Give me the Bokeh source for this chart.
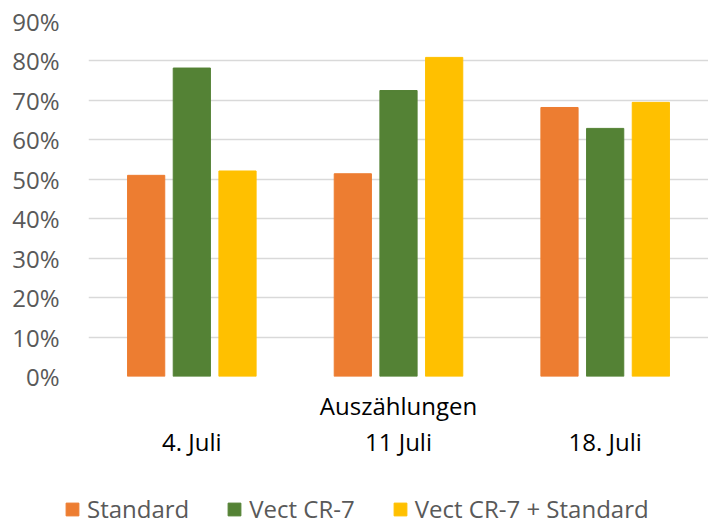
from bokeh.plotting import figure
from bokeh.layouts import column
from bokeh.models import (ColumnDataSource, FactorRange, Range1d, CategoricalAxis,
                          FixedTicker, NumeralTickFormatter, Legend, LegendItem)
from bokeh.transform import dodge
from bokeh.embed import file_html
from bokeh.resources import INLINE

dates = ["4. Juli", "11 Juli", "18. Juli"]
standard = [0.510, 0.514, 0.682]
vect = [0.782, 0.725, 0.629]
vect_std = [0.521, 0.809, 0.695]
series_names = ["Standard", "Vect CR-7", "Vect CR-7 + Standard"]
colors = ["#ED7D31", "#548235", "#FFC000"]
y_ticks = [0.0, 0.1, 0.2, 0.3, 0.4, 0.5, 0.6, 0.7, 0.8, 0.9]
x_title = "Auszählungen"

FONT = "Open Sans"

src = ColumnDataSource(dict(date=dates, s0=standard, s1=vect, s2=vect_std))
keys = ["s0", "s1", "s2"]
offsets = [-0.221, 0.0, 0.221]

p = figure(width=708, height=461, x_range=FactorRange(*dates, range_padding=0),
           y_range=Range1d(0, 0.9), output_backend="svg", toolbar_location=None,
           x_axis_location=None, min_border_left=88, min_border_right=0,
           min_border_top=21, min_border_bottom=85)
p.outline_line_color = None
p.xgrid.visible = False

for i, (key, c) in enumerate(zip(keys, colors)):
    p.vbar(x=dodge("date", offsets[i], range=p.x_range), top=key, width=0.18,
           source=src, fill_color=c, line_color=c)

# y axis
ya = p.yaxis[0]
ya.ticker = FixedTicker(ticks=y_ticks)
ya.formatter = NumeralTickFormatter(format="0%")
ya.axis_line_color = None
ya.major_tick_line_color = None
ya.minor_tick_line_color = None
ya.major_tick_out = 0
ya.major_label_standoff = 29
ya.major_label_text_font = FONT
ya.major_label_text_font_size = "24px"
ya.major_label_text_color = "#595959"

p.ygrid.ticker = FixedTicker(ticks=y_ticks)
p.ygrid.grid_line_color = "#D9D9D9"
p.ygrid.grid_line_width = 1.5

# axis title (above the category labels): labels of this axis are invisible
ax1 = CategoricalAxis(axis_label=x_title,
                      axis_line_color=None, major_tick_line_color=None, minor_tick_line_color=None,
                      major_tick_out=0, major_tick_in=0,
                      major_label_text_font_size="1px", major_label_text_alpha=0,
                      major_label_standoff=0,
                      axis_label_standoff=12, axis_label_text_font=FONT,
                      axis_label_text_font_size="24px", axis_label_text_font_style="normal",
                      axis_label_text_color="#000000")
p.add_layout(ax1, "below")

ax2 = CategoricalAxis(axis_line_color=None, major_tick_line_color=None, minor_tick_line_color=None,
                      major_tick_out=0, major_tick_in=0,
                      major_label_standoff=0, major_label_text_font=FONT,
                      major_label_text_font_size="24px", major_label_text_color="#000000")
p.add_layout(ax2, "below")

# legend strip below the chart (its series are drawn out of view; only the legend shows)
lg = figure(width=708, height=60, output_backend="svg", toolbar_location=None,
            x_range=FactorRange(*dates), y_range=Range1d(1, 2),
            x_axis_location=None, y_axis_location=None,
            min_border_left=0, min_border_right=0, min_border_top=0, min_border_bottom=0)
lg.outline_line_color = None
lg.xgrid.visible = False
lg.ygrid.visible = False

legend_x = 0
if "frame_align" in lg.properties():
    lg.frame_align = False
    p.frame_align = False
    legend_x = 64

items = []
for i, (n, key, c) in enumerate(zip(series_names, keys, colors)):
    r = lg.vbar(x=dodge("date", offsets[i], range=lg.x_range), top=key, width=0.18,
                source=src, fill_color=c, line_color=c)
    items.append(LegendItem(label=n, renderers=[r]))

legend = Legend(items=items, orientation="horizontal", location=(legend_x, -4),
                label_text_font=FONT, label_text_font_size="24px", label_text_color="#595959",
                glyph_width=16, glyph_height=16, label_standoff=7, spacing=37,
                border_line_color=None, background_fill_color=None, padding=0, margin=0)
lg.add_layout(legend)

layout = column(p, lg, spacing=0)
open("out.html", "w").write(file_html(layout, INLINE))
